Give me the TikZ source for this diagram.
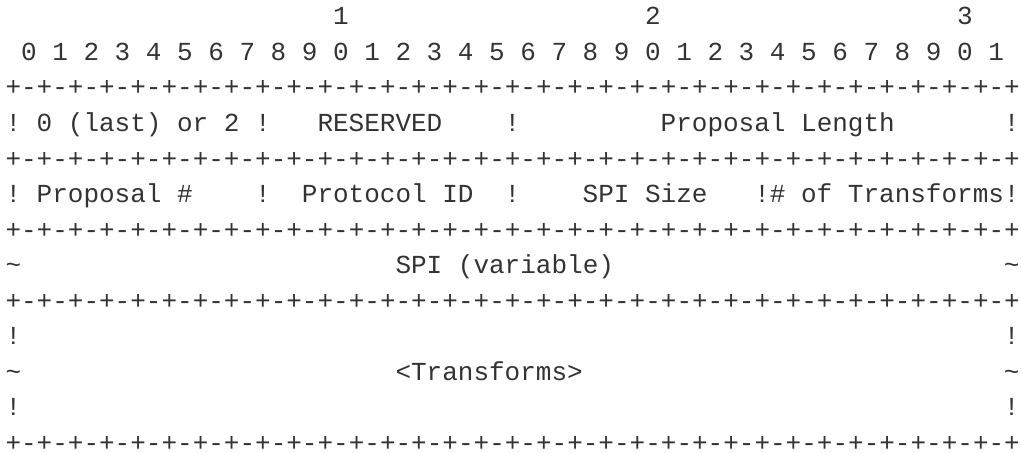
\documentclass[tikz,border=0pt]{standalone}
\usepackage{fontspec}
\newfontfamily\asciifont{Liberation Mono}
\definecolor{asciigray}{HTML}{333333}
\newcommand{\border}{+-+-+-+-+-+-+-+-+-+-+-+-+-+-+-+-+-+-+-+-+-+-+-+-+-+-+-+-+-+-+-+-+}

\begin{document}
\begin{tikzpicture}[asc/.style={font={\asciifont\fontsize{18.5}{22}\selectfont},text=asciigray,anchor=base west,inner sep=0pt,outer sep=0pt}]
    \useasboundingbox (0,0) rectangle (25.525,-11.325);
    \begin{scope}[shift={(0.1375,-0.62)},x=0.39cm,y=-0.889cm]
    \foreach \t/\c in {1/21,2/41,3/61} {
      \node[asc] (tens\t) at (\c,0) {\t};
    }
    \foreach \i in {0,...,31} {
      \pgfmathtruncatemacro\d{mod(\i,10)}
      \node[asc] (bit\i) at ({2*\i+1},1) {\d};
    }
    \foreach \r in {2,4,6,8,12} {
      \node[asc] (rule\r) at (0,\r) {\border};
    }
    \foreach \c/\r in {0/3,16/3,32/3,64/3,0/5,16/5,32/5,48/5,64/5,0/9,64/9,0/11,64/11} {
      \node[asc] (bang\c-\r) at (\c,\r) {!};
    }
    \foreach \c/\r in {0/7,64/7,0/10,64/10} {
      \node[asc] (wave\c-\r) at (\c,\r) {\textasciitilde};
    }

    \node[asc] (next) at (2,3) {0 (last) or 2};
    \node[asc] (resv) at (20,3) {RESERVED};
    \node[asc] (plen) at (42,3) {Proposal Length};

    \node[asc] (pnum) at (2,5) {Proposal \#};
    \node[asc] (proto) at (19,5) {Protocol ID};
    \node[asc] (spisz) at (37,5) {SPI Size};
    \node[asc] (ntrans) at (49,5) {\# of Transforms};

    \node[asc] (spi) at (25,7) {SPI (variable)};
    \node[asc] (trans) at (25,10) {<Transforms>};
    \end{scope}
\end{tikzpicture}
\end{document}
